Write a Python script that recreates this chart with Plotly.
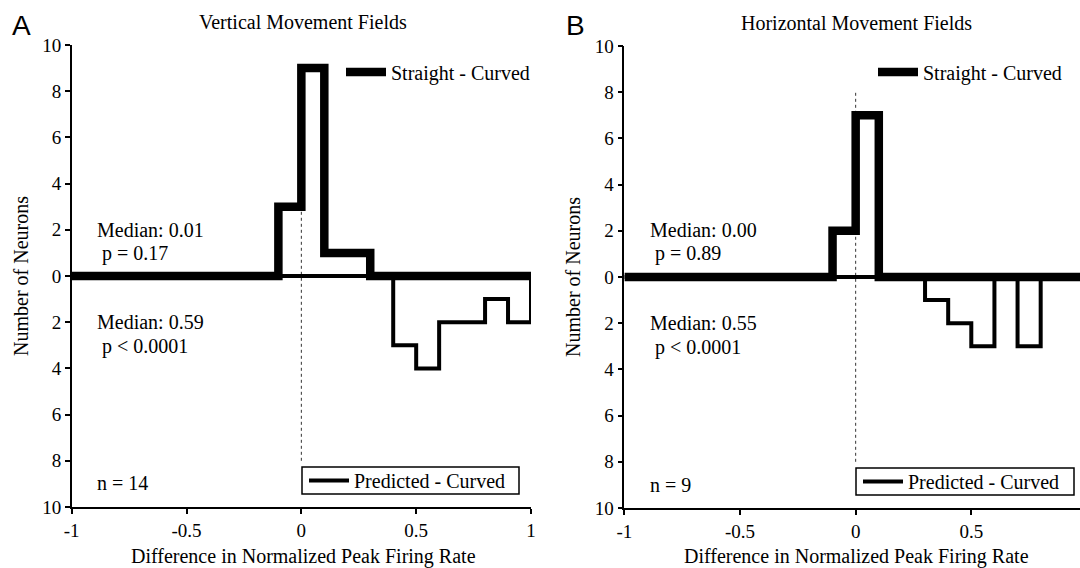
import plotly.graph_objects as go

W, H = 1080, 568

# Histogram bin edges (0.1-wide bins from -1 to 1)
bin_edges = [-1.0, -0.9, -0.8, -0.7, -0.6, -0.5, -0.4, -0.3, -0.2, -0.1, 0.0,
             0.1, 0.2, 0.3, 0.4, 0.5, 0.6, 0.7, 0.8, 0.9, 1.0]

# Neuron counts per bin
vert_straight = [0, 0, 0, 0, 0, 0, 0, 0, 0, 3, 9, 1, 1, 0, 0, 0, 0, 0, 0, 0]
vert_predicted = [0, 0, 0, 0, 0, 0, 0, 0, 0, 0, 0, 0, 0, 0, 3, 4, 2, 2, 1, 2]
horiz_straight = [0, 0, 0, 0, 0, 0, 0, 0, 0, 2, 7, 0, 0, 0, 0, 0, 0, 0, 0, 0]
horiz_predicted = [0, 0, 0, 0, 0, 0, 0, 0, 0, 0, 0, 0, 0, 1, 2, 3, 0, 3, 0, 0]

y_tickvals = [-10, -8, -6, -4, -2, 0, 2, 4, 6, 8, 10]
y_ticktext = ["10", "8", "6", "4", "2", "0", "2", "4", "6", "8", "10"]
x_tickvals = [-1, -0.5, 0, 0.5, 1]
x_ticktext = ["-1", "-0.5", "0", "0.5", "1"]

SERIF = "Liberation Serif, Times New Roman, serif"
SANS = "Liberation Sans, Arial, sans-serif"


def px(x):
    return x / W


def py(y):
    return 1 - y / H


def step_xy(counts, sign):
    ys = [sign * c for c in counts] + [0]
    return bin_edges, ys


fig = go.Figure()

panels = [
    dict(xa="x", ya="y", straight=vert_straight, predicted=vert_predicted,
         lg_s="legend", lg_p="legend2"),
    dict(xa="x2", ya="y2", straight=horiz_straight, predicted=horiz_predicted,
         lg_s="legend3", lg_p="legend4"),
]

for p in panels:
    xs, ys = step_xy(p["predicted"], -1)
    fig.add_trace(go.Scatter(
        x=xs, y=ys, mode="lines", line=dict(color="black", width=4, shape="hv"),
        name="Predicted - Curved", xaxis=p["xa"], yaxis=p["ya"],
        legend=p["lg_p"], cliponaxis=False))
    xs, ys = step_xy(p["straight"], 1)
    fig.add_trace(go.Scatter(
        x=xs, y=ys, mode="lines", line=dict(color="black", width=8.5, shape="hv"),
        name="Straight - Curved", xaxis=p["xa"], yaxis=p["ya"],
        legend=p["lg_s"], cliponaxis=False))

# dotted reference line at zero difference
for xa, ya in (("x", "y"), ("x2", "y2")):
    fig.add_shape(type="line", xref=xa, yref=ya, x0=0, x1=0, y0=-8, y1=8,
                  line=dict(color="#333", width=1, dash="dot"), layer="below")

# framed boxes behind the lower legends
for x0, x1, y0, y1 in ((302, 519, 467, 494), (856, 1074, 468, 495)):
    fig.add_shape(type="rect", xref="paper", yref="paper",
                  x0=px(x0), x1=px(x1), y0=py(y1), y1=py(y0),
                  line=dict(color="black", width=1.5), fillcolor="white",
                  layer="above")

axis_common = dict(showgrid=False, zeroline=False, showline=True,
                   linecolor="black", linewidth=1.5, ticks="outside",
                   ticklen=5, tickwidth=1.5, tickcolor="black", automargin=False,
                   tickfont=dict(family=SERIF, size=19, color="black"))

fig.update_layout(
    width=W, height=H, autosize=False,
    margin=dict(l=0, r=0, t=0, b=0, pad=0, autoexpand=False),
    paper_bgcolor="white", plot_bgcolor="white",
    showlegend=True,
    xaxis=dict(domain=[px(71.7), px(531)], range=[-1, 1], anchor="y",
               tickvals=x_tickvals, ticktext=x_ticktext, **axis_common),
    yaxis=dict(domain=[py(507), py(45)], range=[-10, 10], anchor="x",
               tickvals=y_tickvals, ticktext=y_ticktext, **axis_common),
    xaxis2=dict(domain=[px(624.4), 1.0], range=[-1, 0.97], anchor="y2",
                tickvals=x_tickvals, ticktext=x_ticktext, **axis_common),
    yaxis2=dict(domain=[py(508), py(46)], range=[-10, 10], anchor="x2",
                tickvals=y_tickvals, ticktext=y_ticktext, **axis_common),
)

legend_font = dict(family=SERIF, size=20, color="black")
clear = "rgba(0,0,0,0)"
fig.update_layout(
    legend=dict(x=px(341), y=py(72), xanchor="left", yanchor="middle",
                bgcolor=clear, borderwidth=0, font=legend_font, itemwidth=40),
    legend2=dict(x=px(304), y=py(480.5), xanchor="left", yanchor="middle",
                 bgcolor=clear, borderwidth=0, font=legend_font, itemwidth=40),
    legend3=dict(x=px(873), y=py(72), xanchor="left", yanchor="middle",
                 bgcolor=clear, borderwidth=0, font=legend_font, itemwidth=40),
    legend4=dict(x=px(858), y=py(481.5), xanchor="left", yanchor="middle",
                 bgcolor=clear, borderwidth=0, font=legend_font, itemwidth=40),
)

text_font = dict(family=SERIF, size=20, color="black")
notes = [
    ("Median: 0.01", 95, 230), (" p = 0.17", 95, 253),
    ("Median: 0.59", 95, 322), (" p < 0.0001", 95, 346),
    ("n = 14", 95, 483),
    ("Median: 0.00", 648, 230), (" p = 0.89", 648, 254),
    ("Median: 0.55", 648, 323), (" p < 0.0001", 648, 347),
    ("n = 9", 648, 485),
]
for t, x, y in notes:
    fig.add_annotation(text=t, x=px(x), y=py(y), xref="paper", yref="paper",
                       xanchor="left", yanchor="middle", showarrow=False,
                       font=text_font)

titles = [
    ("Vertical Movement Fields", 303, 22, 0),
    ("Horizontal Movement Fields", 856, 23, 0),
    ("Difference in Normalized Peak Firing Rate", 303, 556, 0),
    ("Difference in Normalized Peak Firing Rate", 856, 556, 0),
    ("Number of Neurons", 21, 276, -90),
    ("Number of Neurons", 573, 277, -90),
]
for t, x, y, ang in titles:
    fig.add_annotation(text=t, x=px(x), y=py(y), xref="paper", yref="paper",
                       xanchor="center", yanchor="middle", showarrow=False,
                       textangle=ang, font=text_font)

for t, x, y in (("A", 21.7, 25), ("B", 575, 25)):
    fig.add_annotation(text=t, x=px(x), y=py(y), xref="paper", yref="paper",
                       xanchor="center", yanchor="middle", showarrow=False,
                       font=dict(family=SANS, size=28, color="black"))

fig.write_html("out.html", config={"responsive": False},
               post_script="document.body.style.margin='0';"
                           "document.body.style.overflow='hidden';")
